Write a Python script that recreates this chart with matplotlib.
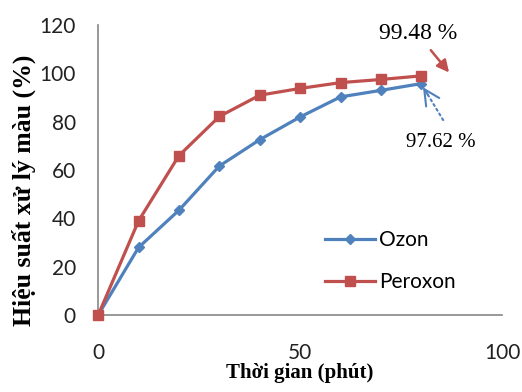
import matplotlib
matplotlib.use('agg')
import matplotlib.pyplot as plt

# data
time_min = [0, 10, 20, 30, 40, 50, 60, 70, 80]
ozon = [0, 28, 43.4, 61.7, 72.6, 82, 90.3, 93, 95.8]
peroxon = [0, 39, 66, 82.2, 91, 93.8, 96.2, 97.5, 99]
x_ticks = [0, 50, 100]
y_ticks = [0, 20, 40, 60, 80, 100, 120]

blue = '#4F81BD'
red = '#C0504D'
axis_gray = '#868686'

fig = plt.figure(figsize=(5.22, 3.92), dpi=100)
ax = fig.add_axes([0.188, 0.196, 0.774, 0.74])

ax.plot(time_min, ozon, color=blue, lw=2.3, marker='D', ms=5,
        label='Ozon', zorder=3, clip_on=False)
ax.plot(time_min, peroxon, color=red, lw=2.3, marker='s', ms=7.5,
        label='Peroxon', zorder=4, clip_on=False)

ax.set_xlim(0, 100)
ax.set_ylim(0, 120)
ax.set_xticks(x_ticks)
ax.set_yticks(y_ticks)
ax.tick_params(length=0, labelsize=15, labelcolor='#222222')
ax.tick_params(axis='y', pad=16)
ax.tick_params(axis='x', pad=20)
for lab in ax.get_xticklabels() + ax.get_yticklabels():
    lab.set_family('Lato')

for side in ['top', 'right']:
    ax.spines[side].set_visible(False)
for side in ['left', 'bottom']:
    ax.spines[side].set_color(axis_gray)
    ax.spines[side].set_linewidth(1.2)

ax.set_xlabel('Thời gian (phút)', family='Liberation Serif', fontweight='bold',
              fontsize=15)
ax.set_ylabel('Hiệu suất xử lý màu (%)', family='Liberation Serif',
              fontweight='bold', fontsize=18.5)
ax.xaxis.set_label_coords(0.5, -0.165)
ax.yaxis.set_label_coords(-0.155, 0.43)

leg = ax.legend(loc='lower left', bbox_to_anchor=(0.515, 0.015), frameon=False,
                prop={'family': 'Lato', 'size': 15}, handlelength=2.4,
                handletextpad=0.2, labelspacing=1.05)

# annotations
ax.text(79.2, 116.5, '99.48 %', family='Liberation Serif', fontsize=17,
        ha='center', va='center', clip_on=False)
ax.annotate('', xy=(87.3, 99.5), xytext=(81.9, 110.5),
            arrowprops=dict(arrowstyle='-|>', color=red, lw=1.8,
                            mutation_scale=18), annotation_clip=False)

ax.text(84.7, 71.5, '97.62 %', family='Liberation Serif', fontsize=15,
        ha='center', va='center', clip_on=False)
ax.annotate('', xy=(81.6, 91.2), xytext=(85.4, 80.7),
            arrowprops=dict(arrowstyle='-', color=blue, lw=1.5, ls=':',
                            shrinkA=0, shrinkB=0), annotation_clip=False)
ax.annotate('', xy=(80.4, 94.3), xytext=(81.6, 91.2),
            arrowprops=dict(arrowstyle='->', color=blue, lw=1.5,
                            mutation_scale=28, shrinkA=0, shrinkB=0),
            annotation_clip=False)

plt.savefig('out.png', dpi=100)
